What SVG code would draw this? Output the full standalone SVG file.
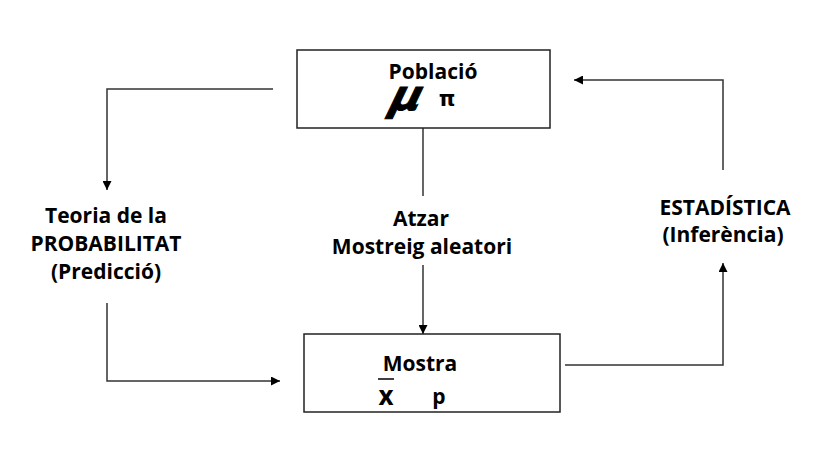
<svg xmlns="http://www.w3.org/2000/svg" width="824" height="457" viewBox="0 0 824 457">
<style>
.box{fill:#fff;stroke:#222;stroke-width:1.5}
.ln{fill:none;stroke:#333;stroke-width:1.5}
.t{font-family:"Open Sans","Liberation Sans",sans-serif;font-weight:bold;font-size:21px;fill:#000;text-anchor:middle}
</style>
<defs>
<marker id="ah" viewBox="0 0 10 10" refX="10" refY="5" markerWidth="9" markerHeight="9" markerUnits="userSpaceOnUse" orient="auto">
<path d="M0,0 L10,5 L0,10 Z" fill="#000"/>
</marker>
</defs>
<rect width="824" height="457" fill="#fff"/>
<g id="connectors">
<path class="ln" d="M273,89 H107 V190" marker-end="url(#ah)"/>
<path class="ln" d="M107,303 V381 H280" marker-end="url(#ah)"/>
<path class="ln" d="M423,128 V196"/>
<path class="ln" d="M423,265 V334" marker-end="url(#ah)"/>
<path class="ln" d="M565,365 H723 V263" marker-end="url(#ah)"/>
<path class="ln" d="M723,170 V80 H574" marker-end="url(#ah)"/>
</g>
<g id="poblacio">
<rect class="box" x="297" y="50" width="253" height="78"/>
<text class="t" x="433" y="79">Població</text>
<g transform="translate(404,110) skewX(-16)">
<text x="0" y="0" style="font-family:'DejaVu Sans',sans-serif;font-weight:bold;font-style:italic;font-size:42px;text-anchor:middle;stroke:#000;stroke-width:1">μ</text>
</g>
<text x="447" y="106" style="font-family:'DejaVu Sans',sans-serif;font-weight:bold;font-size:21px;text-anchor:middle">π</text>
</g>
<g id="mostra">
<rect class="box" x="304" y="334" width="256" height="78"/>
<text class="t" x="420" y="371">Mostra</text>
<line x1="378" y1="379" x2="394" y2="379" stroke="#000" stroke-width="1.5"/>
<text class="t" x="386" y="405" style="font-size:26px">x</text>
<text class="t" x="439" y="404">p</text>
</g>
<g id="probabilitat">
<text class="t" x="106" y="223">Teoria de la</text>
<text class="t" x="106" y="251">PROBABILITAT</text>
<text class="t" x="106" y="279">(Predicció)</text>
</g>
<g id="atzar">
<text class="t" x="421" y="226">Atzar</text>
<text class="t" x="422" y="254">Mostreig aleatori</text>
</g>
<g id="estadistica">
<text class="t" x="725" y="215">ESTADÍSTICA</text>
<text class="t" x="723" y="242">(Inferència)</text>
</g>
</svg>
